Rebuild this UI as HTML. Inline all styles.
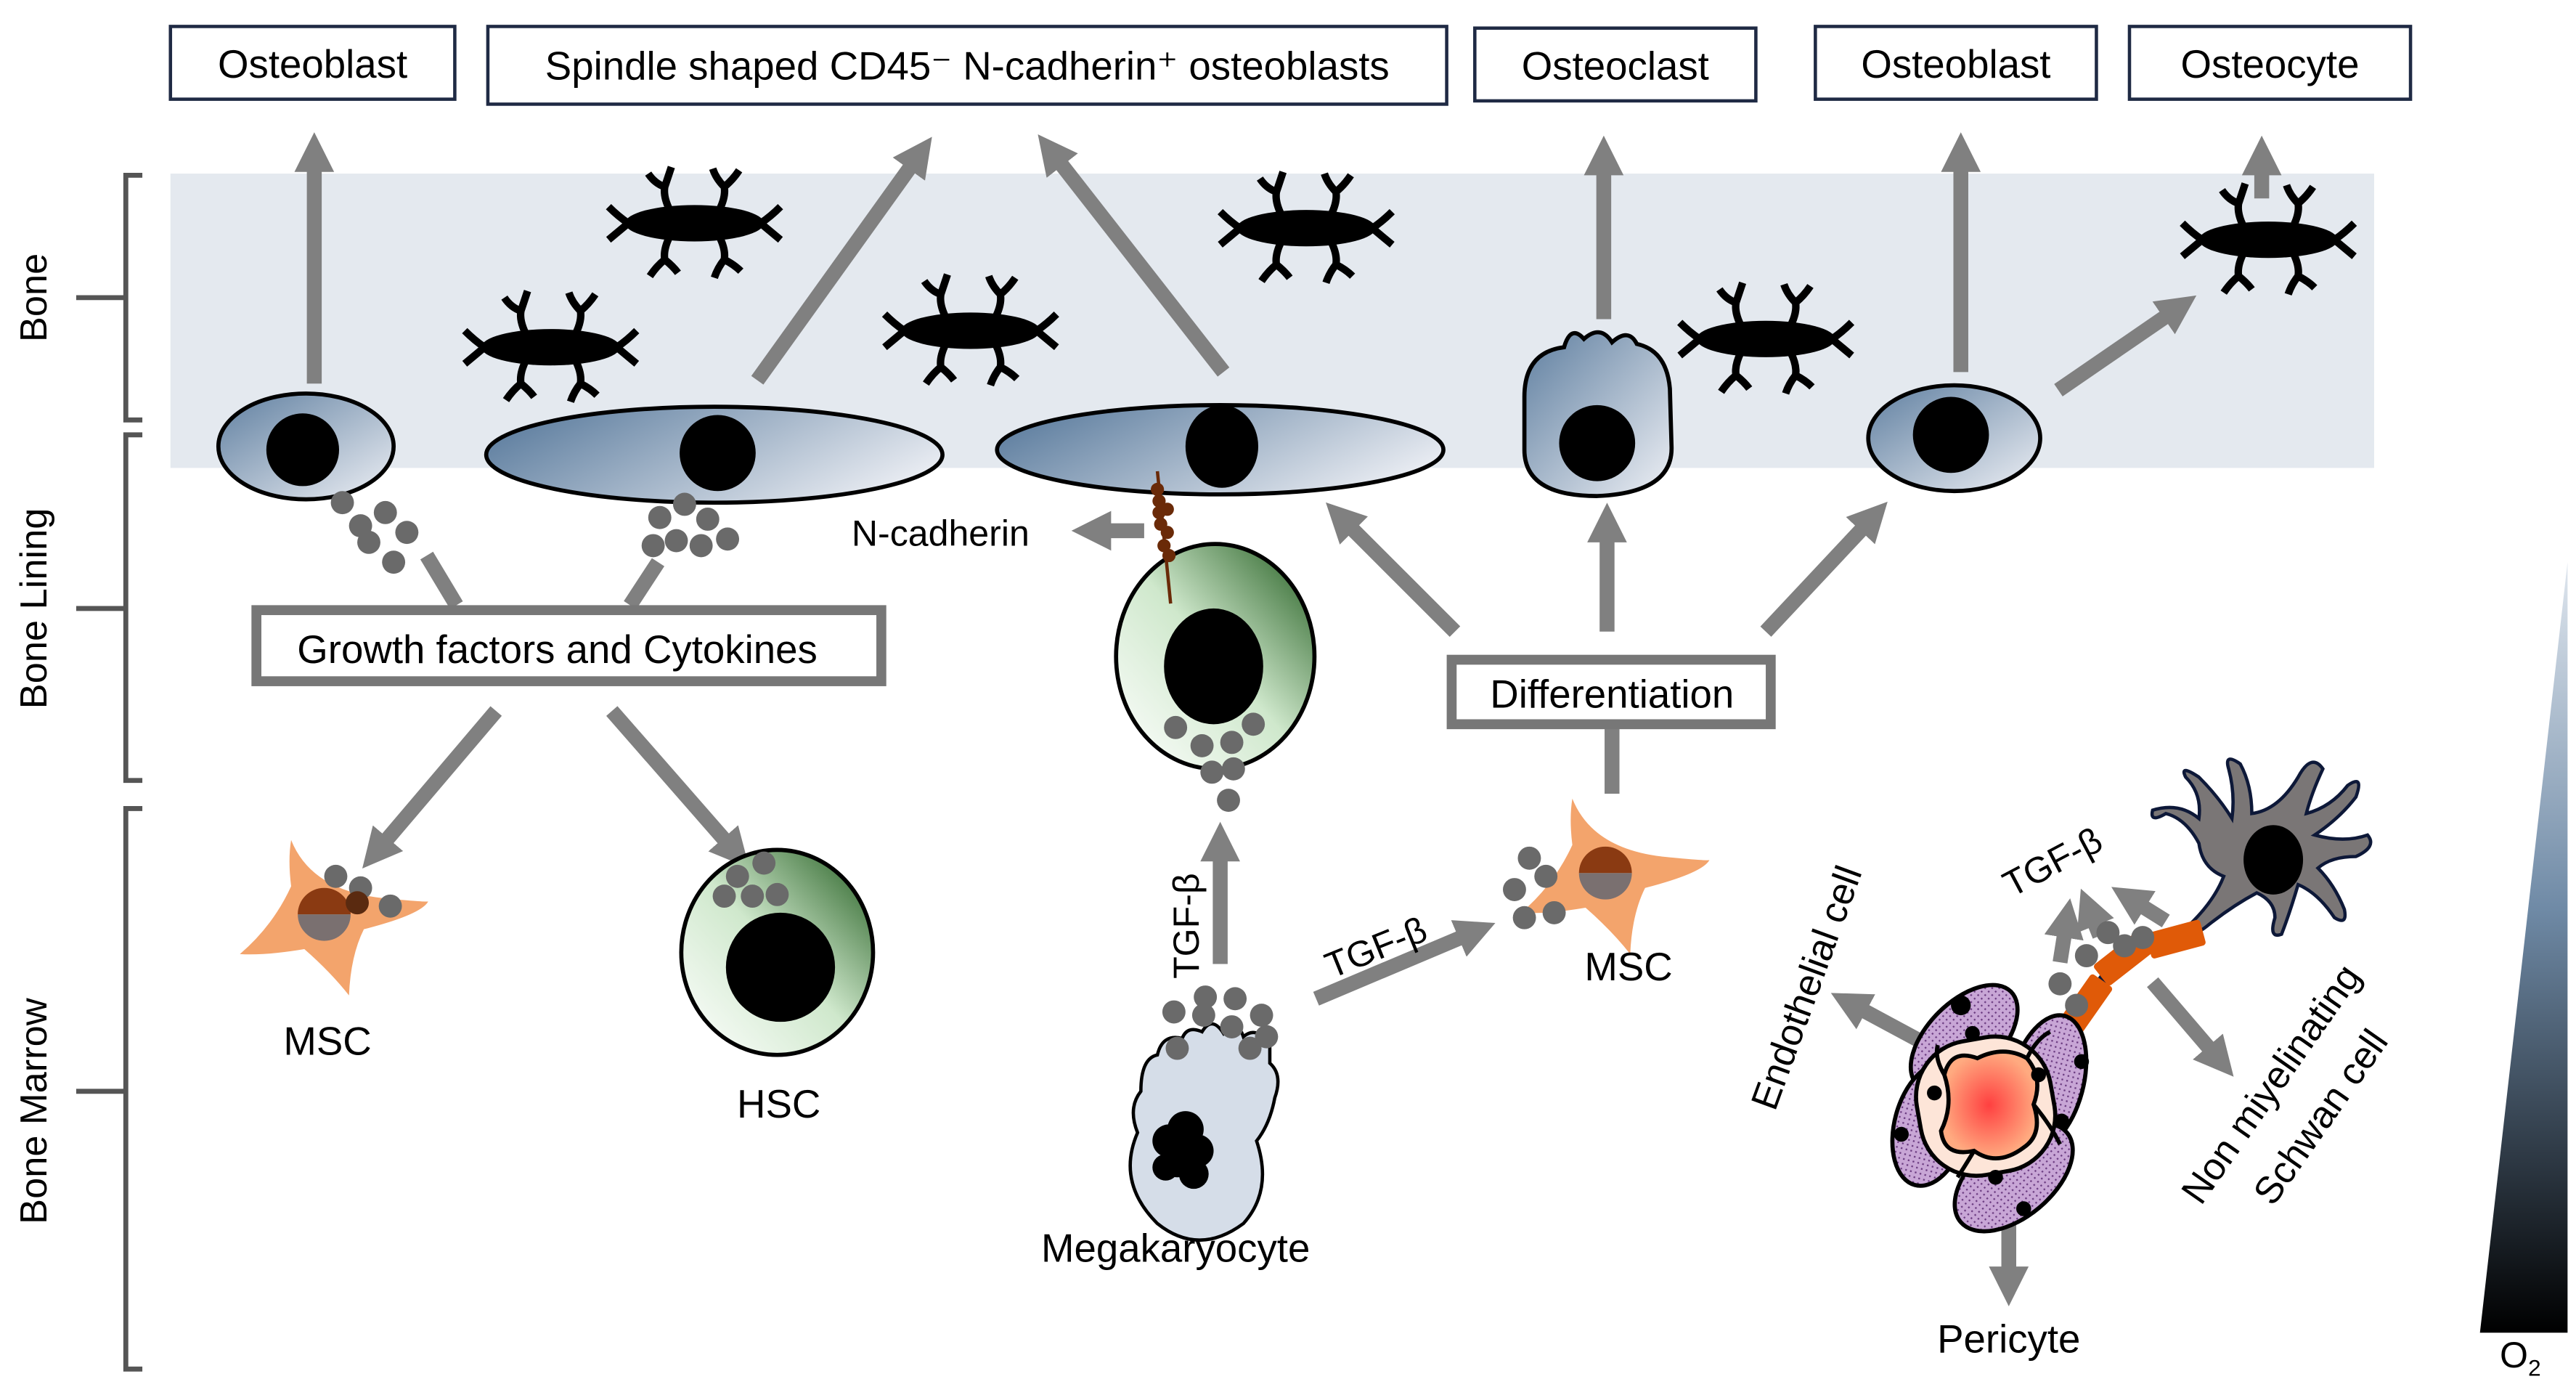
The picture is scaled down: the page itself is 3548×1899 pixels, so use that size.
<!DOCTYPE html>
<html><head><meta charset="utf-8"><style>
html,body{margin:0;padding:0;background:#fff}
svg{display:block}
text{font-family:"Liberation Sans","DejaVu Sans",sans-serif;fill:#000}
</style></head><body>
<svg width="3548" height="1899" viewBox="0 0 1558 834" xmlns="http://www.w3.org/2000/svg">
<defs>
<marker id="ah" markerUnits="userSpaceOnUse" markerWidth="26" markerHeight="26" refX="4" refY="13" orient="auto">
<path d="M0,1 L24,13 L0,25 Z" fill="#808080"/>
</marker>
<linearGradient id="blue" x1="0" y1="0" x2="1" y2="1">
<stop offset="0" stop-color="#5f7fa0"/><stop offset="1" stop-color="#eef0f5"/>
</linearGradient>
<linearGradient id="blueH" x1="0" y1="0.3" x2="1" y2="0.7">
<stop offset="0" stop-color="#5f7fa0"/><stop offset="1" stop-color="#eef0f5"/>
</linearGradient>
<linearGradient id="green" x1="0" y1="1" x2="1" y2="0">
<stop offset="0" stop-color="#ffffff"/><stop offset="0.5" stop-color="#cfe8cc"/><stop offset="1" stop-color="#1f5a1c"/>
</linearGradient>
<radialGradient id="red" cx="0.5" cy="0.5" r="0.5">
<stop offset="0" stop-color="#ff4040"/><stop offset="1" stop-color="#ffaa80"/>
</radialGradient>
<linearGradient id="tri" x1="0" y1="0" x2="0" y2="1">
<stop offset="0" stop-color="#dfe6ee"/><stop offset="0.45" stop-color="#6f8aa6"/><stop offset="1" stop-color="#000"/>
</linearGradient>
<pattern id="lavp" width="3" height="3" patternUnits="userSpaceOnUse">
<rect width="3" height="3" fill="#c8a6d6"/><rect width="1" height="1" fill="#6a3a80"/>
</pattern>
<g id="ocyte">
<ellipse cx="0" cy="0" rx="42" ry="11" fill="#000"/>
<g stroke="#000" stroke-width="4.5" fill="none">
<path d="M-15,-8 Q-19,-16 -18,-22 M-18,-22 Q-24,-24 -28,-30 M-18,-22 Q-16,-28 -14,-34"/>
<path d="M15,-8 Q19,-16 18,-22 M18,-22 Q13,-27 11,-33 M18,-22 Q23,-26 27,-32"/>
<path d="M-15,8 Q-19,16 -18,22 M-18,22 Q-23,26 -27,32 M-18,22 Q-13,26 -10,30"/>
<path d="M15,8 Q19,16 18,22 M18,22 Q14,27 12,33 M18,22 Q24,25 28,29"/>
<path d="M-40,0 Q-46,-4 -52,-10 M-40,0 Q-46,5 -52,10"/>
<path d="M40,0 Q46,-4 52,-10 M40,0 Q46,5 52,10"/>
</g>
</g>
<g id="msc">
<path d="M-24,-42 Q-12,-12 30,-7 Q60,-4 59,-5 Q55,3 20,12 Q12,28 11,52 Q0,38 -16,24 Q-40,28 -55,27 Q-35,10 -24,-14 Q-26,-30 -24,-42 Z" fill="#f3a46c"/>
<path d="M-20,3 A16,16 0 0 1 12,3 Z" fill="#8a3a12"/>
<path d="M-20,3 A16,16 0 0 0 12,3 Z" fill="#7a7070"/>
</g>
</defs>

<rect x="103" y="105" width="1333" height="178" fill="#e4e9ef"/>

<g stroke="#555" stroke-width="3" fill="none">
<path d="M86,106 L76,106 L76,254 L86,254 M76,180 L46,180"/>
<path d="M86,263 L76,263 L76,472 L86,472 M76,368 L46,368"/>
<path d="M86,489 L76,489 L76,828 L86,828 M76,660 L46,660"/>
</g>
<text transform="translate(28,180) rotate(-90)" font-size="23" text-anchor="middle">Bone</text>
<text transform="translate(28,368) rotate(-90)" font-size="23" text-anchor="middle">Bone Lining</text>
<text transform="translate(28,672) rotate(-90)" font-size="23" text-anchor="middle">Bone Marrow</text>

<g fill="#fff" stroke="#1f2a44" stroke-width="2">
<rect x="103" y="16" width="172" height="44"/>
<rect x="295" y="16" width="580" height="47"/>
<rect x="892" y="17" width="170" height="44"/>
<rect x="1098" y="16" width="170" height="44"/>
<rect x="1288" y="16" width="170" height="44"/>
</g>
<g font-size="24" text-anchor="middle">
<text x="189" y="47">Osteoblast</text>
<text x="585" y="48">Spindle shaped CD45⁻ N-cadherin⁺ osteoblasts</text>
<text x="977" y="48">Osteoclast</text>
<text x="1183" y="47">Osteoblast</text>
<text x="1373" y="47">Osteocyte</text>
</g>

<g stroke="#808080" stroke-width="9" fill="none" marker-end="url(#ah)">
<line x1="190" y1="232" x2="190" y2="100"/>
<line x1="458" y1="230" x2="552" y2="99"/>
<line x1="740" y1="225" x2="640" y2="97"/>
<line x1="970" y1="193" x2="970" y2="102"/>
<line x1="1186" y1="225" x2="1186" y2="100"/>
<line x1="1368" y1="120" x2="1368" y2="102"/>
<line x1="1245" y1="236" x2="1312" y2="190"/>
</g>

<use href="#ocyte" x="420" y="135"/>
<use href="#ocyte" x="333" y="210"/>
<use href="#ocyte" x="587" y="200"/>
<use href="#ocyte" x="790" y="138"/>
<use href="#ocyte" x="1068" y="205"/>
<use href="#ocyte" x="1372" y="145"/>

<ellipse cx="185" cy="270" rx="53" ry="32" fill="url(#blue)" stroke="#000" stroke-width="2.5"/>
<circle cx="183" cy="272" r="22" fill="#000"/>
<ellipse cx="432" cy="275" rx="138" ry="29" fill="url(#blueH)" stroke="#000" stroke-width="2.5"/>
<circle cx="434" cy="274" r="23" fill="#000"/>
<ellipse cx="738" cy="272" rx="135" ry="27" fill="url(#blueH)" stroke="#000" stroke-width="2.5"/>
<ellipse cx="739" cy="270" rx="22" ry="25" fill="#000"/>
<path d="M922,240 Q922,213 946,210 Q950,196 958,205 Q968,196 975,207 Q985,198 990,208 Q1008,212 1010,235 L1011,270 Q1012,298 966,300 Q922,300 922,272 Z" fill="url(#blue)" stroke="#000" stroke-width="2.5"/>
<circle cx="966" cy="268" r="23" fill="#000"/>
<ellipse cx="1182" cy="265" rx="52" ry="32" fill="url(#blue)" stroke="#000" stroke-width="2.5"/>
<circle cx="1180" cy="263" r="23" fill="#000"/>

<g fill="#6a6a6a">
<circle cx="207" cy="304" r="7"/><circle cx="218" cy="318" r="7"/><circle cx="233" cy="310" r="7"/><circle cx="246" cy="322" r="7"/><circle cx="238" cy="340" r="7"/><circle cx="223" cy="328" r="7"/>
<circle cx="399" cy="313" r="7"/><circle cx="414" cy="305" r="7"/><circle cx="428" cy="314" r="7"/><circle cx="440" cy="326" r="7"/><circle cx="424" cy="330" r="7"/><circle cx="409" cy="327" r="7"/><circle cx="395" cy="330" r="7"/>
</g>

<g stroke="#808080" stroke-width="9">
<line x1="258" y1="336" x2="276" y2="366"/>
<line x1="398" y1="340" x2="381" y2="366"/>
</g>
<rect x="155" y="369" width="378" height="43" fill="#fff" stroke="#777" stroke-width="6"/>
<text x="337" y="401" font-size="24" text-anchor="middle">Growth factors and Cytokines</text>
<g stroke="#808080" stroke-width="9" fill="none" marker-end="url(#ah)">
<line x1="300" y1="430" x2="232" y2="510"/>
<line x1="370" y1="430" x2="440" y2="510"/>
</g>

<use href="#msc" x="200" y="550"/>
<g fill="#6a6a6a"><circle cx="203" cy="530" r="7"/><circle cx="218" cy="537" r="7"/><circle cx="216" cy="546" r="7" fill="#5a2a10"/><circle cx="236" cy="548" r="7"/></g>
<text x="198" y="638" font-size="24" text-anchor="middle">MSC</text>

<ellipse cx="470" cy="576" rx="58" ry="62" fill="url(#green)" stroke="#000" stroke-width="2.5"/>
<circle cx="472" cy="585" r="33" fill="#000"/>
<g fill="#6a6a6a"><circle cx="446" cy="530" r="7"/><circle cx="462" cy="522" r="7"/><circle cx="470" cy="541" r="7"/><circle cx="455" cy="542" r="7"/><circle cx="438" cy="542" r="7"/></g>
<text x="471" y="676" font-size="24" text-anchor="middle">HSC</text>

<text x="515" y="330" font-size="22">N-cadherin</text>
<line x1="692" y1="321" x2="668" y2="321" stroke="#808080" stroke-width="9" marker-end="url(#ah)"/>

<ellipse cx="735" cy="397" rx="60" ry="68" fill="url(#green)" stroke="#000" stroke-width="2.5"/>
<line x1="700" y1="285" x2="708" y2="365" stroke="#6a2a08" stroke-width="2"/>
<g fill="#6a2a08"><circle cx="700" cy="296" r="4"/><circle cx="701" cy="303" r="4"/><circle cx="701" cy="310" r="4"/><circle cx="706" cy="308" r="4"/><circle cx="702" cy="317" r="4"/><circle cx="706" cy="322" r="4"/><circle cx="704" cy="330" r="4"/><circle cx="707" cy="336" r="4"/></g>
<ellipse cx="734" cy="403" rx="30" ry="35" fill="#000"/>
<g fill="#6a6a6a"><circle cx="711" cy="440" r="7"/><circle cx="727" cy="451" r="7"/><circle cx="745" cy="449" r="7"/><circle cx="758" cy="438" r="7"/><circle cx="733" cy="467" r="7"/><circle cx="746" cy="465" r="7"/><circle cx="743" cy="484" r="7"/></g>

<g stroke="#808080" stroke-width="9" fill="none" marker-end="url(#ah)">
<line x1="880" y1="382" x2="816" y2="318"/>
<line x1="972" y1="382" x2="972" y2="324"/>
<line x1="1068" y1="382" x2="1128" y2="318"/>
</g>
<line x1="975" y1="438" x2="975" y2="480" stroke="#808080" stroke-width="9"/>
<rect x="878" y="399" width="193" height="39" fill="#fff" stroke="#777" stroke-width="6"/>
<text x="975" y="428" font-size="24" text-anchor="middle">Differentiation</text>

<use href="#msc" x="975" y="525"/>
<g fill="#6a6a6a"><circle cx="925" cy="519" r="7"/><circle cx="935" cy="530" r="7"/><circle cx="916" cy="538" r="7"/><circle cx="940" cy="552" r="7"/><circle cx="922" cy="555" r="7"/></g>
<text x="985" y="593" font-size="24" text-anchor="middle">MSC</text>

<g stroke="#808080" stroke-width="9" fill="none" marker-end="url(#ah)">
<line x1="738" y1="583" x2="738" y2="517"/>
<line x1="796" y1="604" x2="886" y2="566"/>
</g>
<text transform="translate(725,560) rotate(-90)" font-size="22" text-anchor="middle">TGF-β</text>
<text transform="translate(835,580) rotate(-22)" font-size="22" text-anchor="middle">TGF-β</text>

<path d="M715,628 Q718,620 727,624 Q733,614 740,625 Q748,615 752,627 Q760,620 768,632 L768,643 Q776,650 771,664 Q768,680 760,690 Q770,720 752,740 Q725,760 700,740 Q675,715 688,685 Q682,670 690,660 Q690,640 700,638 Q703,625 715,628 Z" fill="#d5dde8" stroke="#000" stroke-width="2"/>
<g fill="#000"><circle cx="717" cy="683" r="11"/><circle cx="707" cy="690" r="10"/><circle cx="724" cy="696" r="10"/><circle cx="712" cy="702" r="10"/><circle cx="722" cy="710" r="9"/><circle cx="705" cy="706" r="8"/></g>
<g fill="#6a6a6a"><circle cx="729" cy="603" r="7"/><circle cx="747" cy="604" r="7"/><circle cx="710" cy="612" r="7"/><circle cx="728" cy="614" r="7"/><circle cx="745" cy="621" r="7"/><circle cx="763" cy="614" r="7"/><circle cx="766" cy="627" r="7"/><circle cx="712" cy="634" r="7"/><circle cx="756" cy="634" r="7"/></g>
<text x="711" y="763" font-size="24" text-anchor="middle">Megakaryocyte</text>

<g stroke="#808080" stroke-width="9" fill="none" marker-end="url(#ah)">
<line x1="1164" y1="631" x2="1125" y2="610"/>
<line x1="1215" y1="737" x2="1215" y2="770"/>
<line x1="1246" y1="582" x2="1249" y2="563"/>
<line x1="1270" y1="566" x2="1266" y2="556"/>
<line x1="1310" y1="557" x2="1294" y2="547"/>
<line x1="1302" y1="594" x2="1338" y2="636"/>
</g>
<text transform="translate(1100,600) rotate(-70)" font-size="23" text-anchor="middle">Endothelial cell</text>
<text transform="translate(1245,528) rotate(-28)" font-size="22" text-anchor="middle">TGF-β</text>
<text transform="translate(1380,660) rotate(-55)" font-size="23" text-anchor="middle">Non miyelinating</text>
<text transform="translate(1410,680) rotate(-55)" font-size="23" text-anchor="middle">Schwan cell</text>
<text x="1215" y="818" font-size="24" text-anchor="middle">Pericyte</text>

<path d="M1330,510 Q1322,495 1310,492 Q1300,498 1302,490 Q1318,485 1330,495 Q1332,480 1322,470 Q1318,462 1330,470 Q1342,482 1350,495 Q1352,480 1348,465 Q1345,455 1355,462 Q1362,475 1362,492 Q1378,490 1390,470 Q1398,455 1405,465 Q1398,480 1395,492 Q1410,488 1420,475 Q1430,468 1425,482 Q1415,495 1400,505 Q1418,510 1432,505 Q1438,512 1425,518 Q1410,518 1402,525 Q1412,535 1418,550 Q1420,560 1412,555 Q1402,540 1390,535 Q1385,552 1380,565 Q1372,568 1376,555 Q1376,545 1365,540 Q1350,548 1335,560 Q1325,568 1318,565 Q1338,548 1345,530 Q1332,525 1330,510 Z" fill="#7a7676" stroke="#0d1838" stroke-width="2"/>
<ellipse cx="1375" cy="520" rx="18" ry="21" fill="#000"/>
<path d="M1252,620 L1275,588 L1298,570 L1330,562" stroke="#0d1838" stroke-width="6" fill="none"/>
<g fill="#e05a08">
<rect x="-8" y="-17" width="16" height="34" rx="2" transform="translate(1262,607) rotate(35)"/>
<rect x="-8" y="-17" width="16" height="34" rx="2" transform="translate(1284,580) rotate(52)"/>
<rect x="-8" y="-17" width="16" height="34" rx="2" transform="translate(1316,568) rotate(75)"/>
</g>
<g fill="#6a6a6a"><circle cx="1246" cy="595" r="7"/><circle cx="1262" cy="578" r="7"/><circle cx="1256" cy="608" r="7"/><circle cx="1285" cy="572" r="7"/><circle cx="1296" cy="567" r="7"/><circle cx="1275" cy="564" r="7"/></g>

<!-- vessel -->
<g stroke="#000" stroke-width="2.5" fill="url(#lavp)">
<ellipse cx="1188" cy="628" rx="40" ry="22" transform="rotate(-45 1188 628)"/>
<ellipse cx="1238" cy="655" rx="42" ry="22" transform="rotate(-75 1238 655)"/>
<ellipse cx="1218" cy="712" rx="42" ry="24" transform="rotate(-40 1218 712)"/>
<ellipse cx="1168" cy="680" rx="38" ry="22" transform="rotate(-75 1168 680)"/>
</g>
<g stroke="#000" stroke-width="2.5" fill="#fde5d8">
<rect x="1160" y="628" width="82" height="82" rx="34" transform="rotate(-10 1201 669)"/>
</g>
<path d="M1176,650 Q1180,634 1196,640 Q1212,632 1226,640 Q1236,652 1230,668 Q1236,686 1224,694 Q1208,706 1194,696 Q1176,700 1174,684 Q1182,668 1176,650 Z" fill="url(#red)" stroke="#000" stroke-width="2.5"/>
<g stroke="#000" stroke-width="2.5" fill="none">
<path d="M1176,650 Q1170,640 1172,632"/><path d="M1226,640 Q1232,628 1240,624"/>
<path d="M1230,668 Q1240,680 1246,692"/><path d="M1194,696 Q1188,706 1184,712"/>
</g>
<g fill="#000"><circle cx="1186" cy="608" r="6"/><circle cx="1193" cy="625" r="4.5"/><circle cx="1233" cy="650" r="4.5"/><circle cx="1259" cy="642" r="4.5"/><circle cx="1247" cy="678" r="4.5"/><circle cx="1170" cy="661" r="4.5"/><circle cx="1150" cy="686" r="4.5"/><circle cx="1207" cy="712" r="4.5"/><circle cx="1224" cy="731" r="4.5"/></g>

<polygon points="1500,806 1553,806 1553,340" fill="url(#tri)"/>
<text x="1512" y="827" font-size="22">O<tspan font-size="14" dy="5">2</tspan></text>
</svg>
</body></html>
